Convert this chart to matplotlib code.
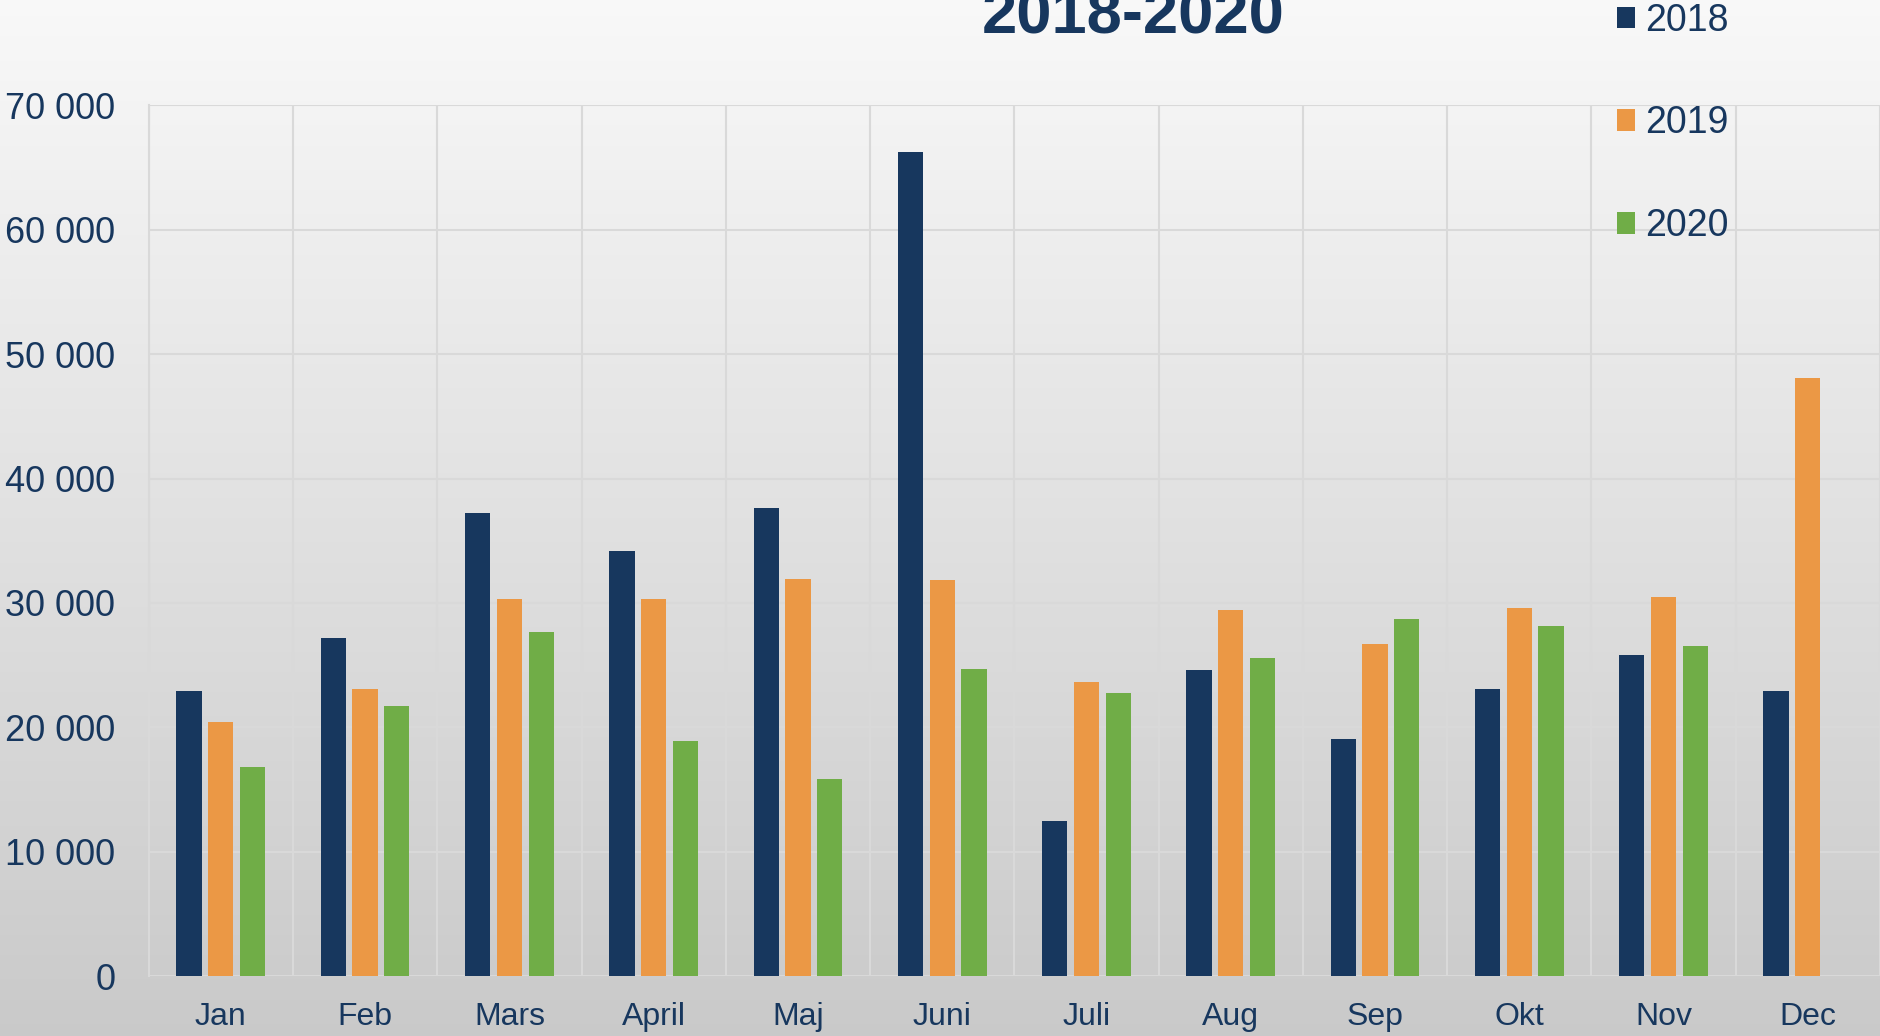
import numpy as np
import matplotlib
matplotlib.use("Agg")
import matplotlib.pyplot as plt
from matplotlib.ticker import FuncFormatter

plt.rcParams['font.family'] = ['Liberation Sans', 'DejaVu Sans']

months = ['Jan', 'Feb', 'Mars', 'April', 'Maj', 'Juni', 'Juli', 'Aug', 'Sep', 'Okt', 'Nov', 'Dec']
v2018 = [22950, 27190, 37220, 34140, 37610, 66250, 12440, 24590, 19090, 23050, 25840, 22950]
v2019 = [20440, 23050, 30280, 30280, 31920, 31820, 23630, 29410, 26710, 29600, 30470, 48120]
v2020 = [16780, 21700, 27680, 18900, 15810, 24690, 22760, 25550, 28740, 28160, 26520, np.nan]
years = ['2018', '2019', '2020']

navy = '#17375e'
cols = ['#17375e', '#eb9845', '#70ad47']

fig = plt.figure(figsize=(18.8, 10.36), dpi=100)

# background gradient
bg = fig.add_axes([0, 0, 1, 1], zorder=0)
grad = np.linspace(0, 1, 256).reshape(-1, 1)
top = np.array([0.975, 0.975, 0.975])
bot = np.array([0.79, 0.79, 0.79])
img = top + (bot - top) * grad[:, :, None]
bg.imshow(img, aspect='auto', extent=[0, 1, 0, 1])
bg.axis('off')

ax = fig.add_axes([0.0791, 0.0579, 0.9209, 0.8403], zorder=1)
ax.set_facecolor('none')

x = np.arange(len(months))
w = 0.175
off = 0.22
for i, (vals, lab) in enumerate(zip([v2018, v2019, v2020], years)):
    ax.bar(x + (i - 1) * off, vals, width=w, color=cols[i], label=lab, zorder=3)

ax.set_xlim(-0.5, 11.5)
ax.set_ylim(0, 70000)
ax.set_yticks(np.arange(0, 70001, 10000))
ax.yaxis.set_major_formatter(FuncFormatter(lambda v, p: f"{int(v):,}".replace(',', ' ')))
ax.set_xticks(x)
ax.set_xticklabels(months)
ax.set_xticks(np.arange(-0.5, 12, 1), minor=True)

ax.grid(axis='y', which='major', color='#d9d9d9', linewidth=1.5, zorder=0)
ax.grid(axis='x', which='minor', color='#d9d9d9', linewidth=1.5, zorder=0)
ax.grid(axis='x', which='major', visible=False)
for s in ['top', 'right', 'bottom']:
    ax.spines[s].set_visible(False)
ax.spines['left'].set_color('#d9d9d9')
ax.spines['left'].set_linewidth(1.5)

ax.tick_params(axis='y', length=0, labelsize=26, labelcolor=navy, pad=24)
ax.tick_params(axis='x', which='both', length=0, labelsize=23, labelcolor=navy, pad=19)

fig.text(0.603, 0.968, '2018-2020', ha='center', va='baseline', fontsize=45.5,
         fontweight='bold', color=navy)

leg = fig.legend(loc='upper left', bbox_to_anchor=(0.842, 1.03), frameon=False,
                 fontsize=27, handlelength=0.5, handleheight=0.5, handletextpad=0.25,
                 labelspacing=1.78, labelcolor=navy)

fig.savefig('out.png', dpi=100)
